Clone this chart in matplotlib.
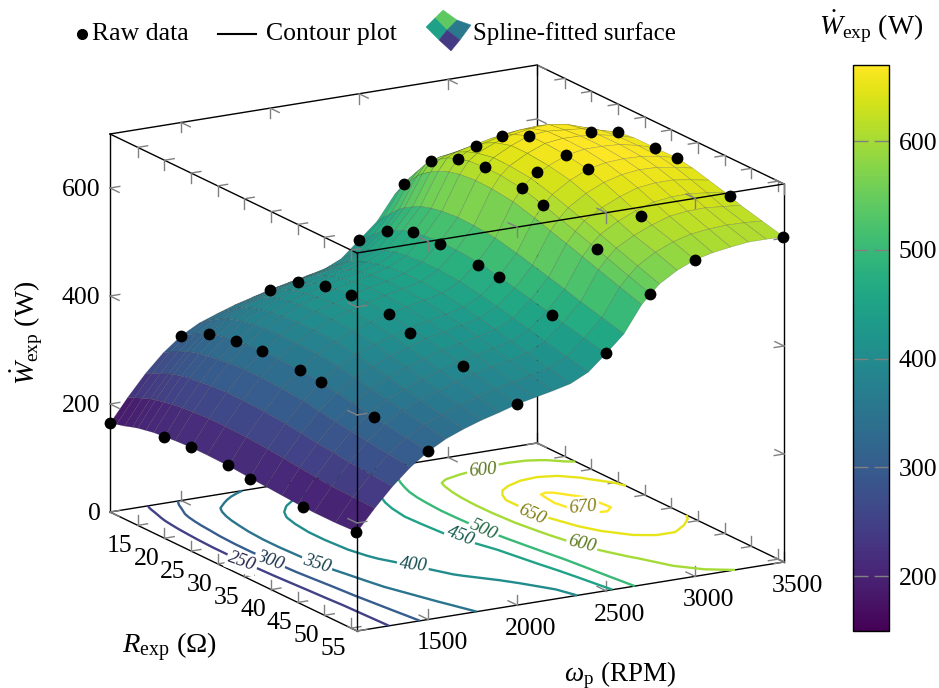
import math
import numpy as np
import matplotlib
matplotlib.use('Agg')
import matplotlib.pyplot as plt
from matplotlib.colors import Normalize
from matplotlib.cm import ScalarMappable
from matplotlib.patches import Polygon
from matplotlib.lines import Line2D
from mpl_toolkits.mplot3d import proj3d

plt.rcParams['font.family'] = ['Liberation Serif', 'DejaVu Serif']
plt.rcParams['mathtext.fontset'] = 'custom'
plt.rcParams['mathtext.rm'] = 'Liberation Serif'
plt.rcParams['mathtext.it'] = 'Liberation Serif:italic'
plt.rcParams['mathtext.bf'] = 'Liberation Serif:bold'

# raw data
raw_r = [9.8, 20, 25, 32, 36, 46, 56,
         9.8, 15, 20, 25, 32, 36, 46, 56,
         9.8, 15, 20, 25, 32, 36, 46, 56,
         9.8, 15, 20, 25, 32, 36, 46, 56,
         9.8, 15, 20, 25, 32, 36, 46, 56,
         15, 20, 25, 32, 36, 46, 56,
         9.8, 20, 25, 32, 36, 46, 56]
raw_w = [1100] * 7 + [1500] * 8 + [2000] * 8 + [2500] * 8 + [2750] * 8 + [3000] * 7 + [3500] * 7
raw_p = [164, 188, 192, 192, 185, 181, 183,
         305, 333, 344, 349, 347, 344, 326, 311,
         364, 402, 419, 426, 424, 409, 394, 372,
         429, 471, 492, 494, 488, 486, 462, 439,
         519, 587, 615, 623, 617, 605, 572, 536,
         601, 644, 668, 665, 658, 620, 586,
         502, 624, 648, 652, 653, 629, 602]

# fitted surface
surf_r = [9.8, 11, 12.5, 14, 15, 16.5, 18, 20, 22, 25, 28, 32, 36, 39, 42, 45, 48, 52, 56.1]
surf_w = [1100, 1200, 1300, 1400, 1500, 1600, 1700, 1800, 1900, 2000, 2100, 2200, 2300, 2400,
          2500, 2600, 2700, 2750, 2800, 2900, 3000, 3100, 3200, 3300, 3400, 3500]
surf_p = [
    [164, 168, 172, 177, 180, 183, 186, 188, 190, 192, 192, 191, 188, 186, 184, 182, 181, 181, 183],
    [207, 212, 218, 224, 227, 230, 233, 236, 238, 240, 240, 239, 236, 233, 230, 227, 224, 223, 222],
    [246, 252, 258, 265, 269, 273, 276, 278, 281, 283, 283, 281, 278, 274, 270, 267, 263, 260, 257],
    [279, 286, 293, 301, 305, 309, 312, 315, 318, 320, 320, 318, 315, 310, 305, 301, 297, 292, 287],
    [305, 313, 321, 329, 333, 338, 341, 344, 347, 349, 349, 347, 344, 338, 333, 328, 323, 317, 311],
    [323, 332, 342, 351, 356, 361, 365, 369, 371, 373, 373, 371, 367, 361, 355, 349, 343, 336, 329],
    [335, 345, 355, 366, 372, 377, 382, 386, 388, 391, 391, 389, 384, 377, 370, 363, 357, 349, 342],
    [346, 356, 367, 378, 385, 392, 397, 401, 404, 406, 406, 404, 398, 391, 384, 376, 369, 361, 353],
    [355, 365, 377, 389, 395, 401, 406, 410, 413, 416, 416, 414, 408, 401, 394, 387, 380, 371, 362],
    [364, 374, 385, 396, 402, 408, 414, 419, 423, 426, 426, 424, 418, 412, 405, 398, 390, 381, 372],
    [371, 381, 392, 404, 410, 416, 422, 427, 431, 434, 434, 432, 425, 419, 412, 405, 397, 388, 379],
    [378, 388, 399, 410, 416, 423, 429, 434, 438, 441, 441, 439, 432, 426, 419, 412, 404, 395, 386],
    [385, 396, 407, 419, 425, 431, 438, 443, 447, 450, 449, 447, 440, 434, 427, 420, 412, 403, 394],
    [400, 411, 423, 435, 441, 448, 454, 460, 463, 466, 466, 463, 456, 450, 443, 436, 428, 419, 410],
    [429, 440, 452, 465, 471, 479, 486, 492, 495, 498, 497, 494, 486, 479, 472, 465, 457, 448, 439],
    [458, 471, 486, 501, 508, 517, 525, 531, 535, 538, 537, 533, 524, 516, 508, 500, 491, 481, 470],
    [503, 520, 538, 557, 566, 576, 585, 593, 598, 601, 600, 595, 584, 574, 565, 555, 545, 532, 519],
    [519, 537, 557, 577, 587, 597, 607, 615, 620, 623, 622, 617, 605, 595, 585, 575, 564, 550, 536],
    [526, 544, 563, 582, 592, 603, 615, 625, 632, 638, 637, 633, 622, 612, 602, 591, 580, 566, 552],
    [534, 551, 570, 588, 597, 610, 623, 636, 646, 655, 655, 651, 643, 633, 621, 610, 598, 586, 572],
    [540, 557, 575, 592, 601, 615, 630, 644, 656, 668, 668, 665, 658, 648, 636, 624, 612, 600, 586],
    [541, 559, 578, 597, 606, 620, 635, 650, 662, 671, 672, 671, 665, 657, 647, 635, 623, 609, 594],
    [537, 556, 577, 598, 608, 622, 637, 652, 664, 668, 671, 671, 667, 661, 651, 639, 627, 613, 599],
    [530, 551, 572, 595, 607, 620, 634, 648, 659, 665, 668, 669, 666, 660, 651, 640, 628, 615, 603],
    [518, 538, 560, 585, 597, 608, 624, 637, 648, 657, 661, 662, 661, 655, 646, 636, 625, 614, 603],
    [502, 522, 545, 570, 583, 594, 612, 624, 636, 648, 652, 652, 653, 648, 640, 632, 622, 612, 602],
]

levels = [250, 300, 350, 400, 450, 500, 600, 650, 670]
# contour labels: value, R, omega, angle (later ones cover earlier ones)
lab_val = [300, 250, 350, 400, 500, 450, 600, 600, 650, 670]
lab_r = [31.4, 30.6, 34.7, 39.5, 32.7, 33.3, 15.1, 41.3, 30.3, 30.6]
lab_w = [1353, 1218, 1516, 1912, 2511, 2365, 3037, 2809, 2859, 3135]
lab_rot = [-20, -20, -17, -6, -25, -22, 5, -14, -24, 5]

r_ticks = [15, 20, 25, 30, 35, 40, 45, 50, 55]
w_ticks = [1500, 2000, 2500, 3000, 3500]
p_ticks = [0, 200, 400, 600]
cbar_ticks = [200, 300, 400, 500, 600]

rlim = (9.8, 56.1)
wlim = (1100, 3500)
plim = (0, 700)
norm = Normalize(149.5, 670)
cmap = plt.get_cmap('viridis')
W, H = 939, 688


def fx(x):
    return x / W


def fy(y):
    return 1 - y / H


def floor_dir(rot):
    # Text3D takes its angle from a direction in data space
    th = math.radians(rot)
    a = (0.1616 * math.cos(th) - math.sin(th)) / 0.6434
    b = math.cos(th) - a
    return (a / 5.33, b / 0.1779, 0)


fig = plt.figure(figsize=(W / 100, H / 100), dpi=100)
ax = fig.add_axes([0, 0, 1, 1], projection='3d', computed_zorder=False)
ax.set_proj_type('ortho')
ax.view_init(elev=16.2, azim=-30.08)
ax.set_box_aspect((492.8, 493.4, 393.6))
ax.set_xlim(*rlim)
ax.set_ylim(*wlim)
ax.set_zlim(*plim)
ax.set_axis_off()

RR, WW = np.meshgrid(surf_r, surf_w)
PP = np.array(surf_p, dtype=float)

ax.contour(RR, WW, PP, levels=levels, zdir='z', offset=0, cmap=cmap, norm=norm,
           linewidths=1.7, zorder=2)
for v, r, w, rot in zip(lab_val, lab_r, lab_w, lab_rot):
    c = np.array(cmap(norm(v))[:3]) * 0.55
    ax.text(r, w, 0, str(v), zdir=floor_dir(rot), color=c, fontsize=13.5, style='italic',
            ha='center', va='center', rotation_mode='anchor', zorder=3,
            bbox=dict(fc='white', ec='none', pad=1.5))

ax.plot_surface(RR, WW, PP, cmap=cmap, norm=norm, rstride=1, cstride=1, shade=False,
                linewidth=0.4, edgecolor=(0.15, 0.15, 0.15, 0.3), antialiased=True, zorder=4)


def edge(p0, p1, z):
    ax.plot([p0[0], p1[0]], [p0[1], p1[1]], [p0[2], p1[2]], color='black', lw=1.0, zorder=z)


def tick(p, d, z):
    ax.plot([p[0], p[0] + d[0]], [p[1], p[1] + d[1]], [p[2], p[2] + d[2]],
            color='#808080', lw=1.0, zorder=z)


dr, dw, dp = 1.7, 55, 18.5
r0, r1 = rlim
w0, w1 = wlim
p0, p1 = plim
# box edges, front ones go over the surface
for w, p in [(w0, p0), (w0, p1), (w1, p0), (w1, p1)]:
    z = 5 if (w == w0 and p == p1) else 1
    edge((r0, w, p), (r1, w, p), z)
    for t in r_ticks:
        tick((t, w, p), (0, dw if w == w0 else -dw, 0), z)
        tick((t, w, p), (0, 0, dp if p == p0 else -dp), z)
for r, p in [(r0, p0), (r0, p1), (r1, p0), (r1, p1)]:
    z = 5 if (r == r1 and p == p1) else 1
    edge((r, w0, p), (r, w1, p), z)
    for t in w_ticks:
        tick((r, t, p), (dr if r == r0 else -dr, 0, 0), z)
        tick((r, t, p), (0, 0, dp if p == p0 else -dp), z)
for r, w in [(r0, w0), (r0, w1), (r1, w0), (r1, w1)]:
    z = 5 if (r == r1 and w == w0) else 1
    edge((r, w, p0), (r, w, p1), z)
    for t in p_ticks:
        tick((r, w, t), (dr if r == r0 else -dr, 0, 0), z)
        tick((r, w, t), (0, dw if w == w0 else -dw, 0), z)

ax.plot(raw_r, raw_w, raw_p, 'o', color='black', ms=8.5, mew=0, zorder=6)

for t in r_ticks:
    ax.text(t + 5.2, w0 - 258, 0, str(t), fontsize=18.5, ha='center', va='center')
for t in w_ticks:
    ax.text(r1 + 7.6, t - 151, 0, str(t), fontsize=18.5, ha='center', va='center')
for t in p_ticks:
    ax.text(r0 - 0.45, w0 - 40, t - 4, str(t), fontsize=18.5, ha='right', va='center')


def corner_px(x, y, z):
    xs, ys, _ = proj3d.proj_transform(x, y, z, ax.get_proj())
    return ax.transData.transform((xs, ys))


# fit the square 3d axes so the box corners land where they should
size = 900.0
left, bottom = 0.0, 0.0
for _ in range(3):
    ax.set_position([left / W, bottom / H, size / W, size / H])
    fig.canvas.draw()
    a = corner_px(r0, w0, 0)
    b = corner_px(r1, w1, 0)
    s = (784 - 110) / (b[0] - a[0])
    size *= s
    ax.set_position([left / W, bottom / H, size / W, size / H])
    fig.canvas.draw()
    a = corner_px(r0, w0, 0)
    left += 110 - a[0]
    bottom += (H - 512) - a[1]
ax.set_position([left / W, bottom / H, size / W, size / H])

# axis titles
fig.text(fx(169), fy(647), r'$R_{\mathrm{exp}}$ ($\Omega$)', fontsize=20.5, ha='center', va='center')
fig.text(fx(620), fy(675), r'$\omega_{\mathrm{p}}$ (RPM)', fontsize=19.5, ha='center', va='center')
fig.text(fx(27), fy(333), r'$\dot{W}_{\mathrm{exp}}$ (W)', fontsize=20, ha='center', va='center', rotation=90)
fig.text(fx(871), fy(27), r'$\dot{W}_{\mathrm{exp}}$ (W)', fontsize=20, ha='center', va='center')

# legend
fig.add_artist(Line2D([fx(82)], [fy(34)], marker='o', color='black', ms=8, mew=0, ls='none'))
fig.text(fx(92), fy(34), 'Raw data', fontsize=18.5, ha='left', va='center')
fig.add_artist(Line2D([fx(218), fx(256)], [fy(34), fy(34)], color='black', lw=1.5))
fig.text(fx(266), fy(34), 'Contour plot', fontsize=18.5, ha='left', va='center')
fig.text(fx(473), fy(34), 'Spline-fitted surface', fontsize=17.9, ha='left', va='center')
icon = [([(443, 10), (457, 20), (447, 30), (435, 18)], '#5ec962'),
        ([(435, 18), (447, 30), (439, 40), (426, 27)], '#1fa187'),
        ([(457, 20), (471, 25), (460, 40), (447, 30)], '#2a788e'),
        ([(447, 30), (460, 40), (451, 51), (439, 40)], '#443983')]
for pts, col in icon:
    fig.add_artist(Polygon([(fx(x), fy(y)) for x, y in pts], closed=True, fc=col, ec=col,
                           lw=0.3, transform=fig.transFigure))

# colorbar
cax = fig.add_axes([fx(853), fy(631), 36 / W, 566 / H])
cb = fig.colorbar(ScalarMappable(norm=norm, cmap=cmap), cax=cax)
cb.set_ticks(cbar_ticks)
cax.tick_params(axis='y', which='both', direction='in', left=True, right=True, labelleft=False,
                labelright=True, length=11, width=1.0, color='#808080', labelsize=18.5, pad=7)
cb.outline.set_linewidth(1.0)
cb.minorticks_off()

fig.savefig('out.png', dpi=100)
